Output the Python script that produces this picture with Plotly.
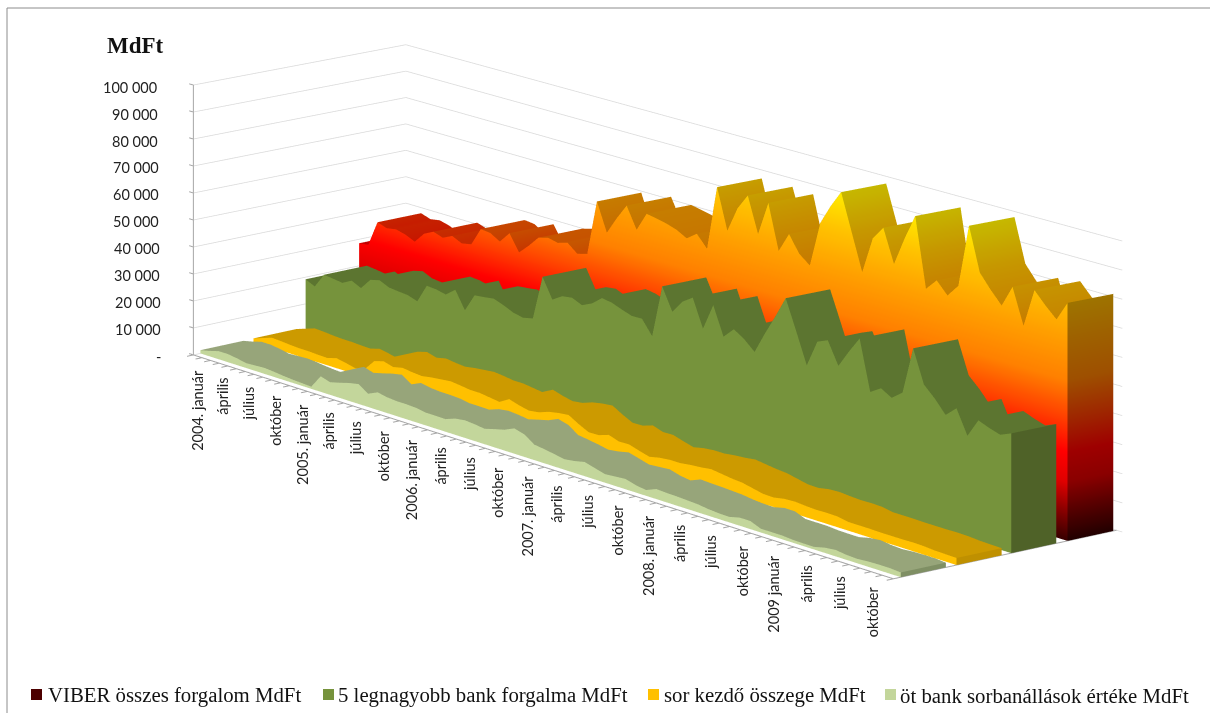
import numpy as np
import plotly.graph_objects as go

viber = [28.5,29,38.5,37.3,37.9,37,35.4,39.4,41.2,40,41.7,40,40.7,47.4,47,44.9,49,43,46.5,50.5,51.5,50.7,51.8,48.8,49.8,70,59.7,66,71.6,63.9,70.7,70,69.2,68,66,68.7,64.4,87.5,73,82,87.6,75,87,71,78,72,69,85,92,98,85,72,84.9,89.6,78,88,96.8,72.5,76.5,72.3,76.7,98.6,83.4,78.5,74.2,81.7,69.4,82.7,78.5,74.8,81.5]
top5 = [19.2,17.6,23,22.6,22.1,24,22.3,26.4,27.3,25.7,25.3,25,23.8,30.6,30.3,29.5,32.3,25.9,32.4,32.8,33.3,32,30.4,29.6,30.4,46.6,39.4,41.7,42.2,40.6,42.3,45.3,44.7,43.3,42.1,42.2,37.1,55.9,47.9,52.6,55.1,45.2,54.6,44.5,48.2,45.8,42.4,50,57,64.5,54,43.2,52.5,54.1,46.3,52.4,58,40.5,42.9,40.7,43.6,60,48.6,44.9,40.4,43.8,35.5,41.9,40.4,39.2,40.8]
queue_start = [1.3,2.5,3.7,3.5,3.2,3,3,2.8,2.7,3.7,3,2.2,3,7,8,7,7.8,7.3,7,7.6,8,8.4,8,7.5,7.5,7,6.5,8.6,7.5,6.7,7.2,8.5,9.2,9.6,7.5,5.7,5.8,7,5.8,5.9,4.8,3.8,4.6,5,5,5.5,5.8,6.3,5.8,5.3,5,4.2,3.4,3.3,4,4.2,3.9,3.7,3.8,3.7,3,3,3,2.9,2.9,2.9,3,2.9,2.6,2.5,2.4]
queue_value = [1.2,2,3,3,2.5,1.8,2,2.2,1.9,1.5,1.2,1,.8,5.7,4.6,5.5,6.5,7.2,4.8,6.4,5.7,5.4,5.4,5.2,4.6,4.6,4.5,5.8,6.3,6,5.5,6.5,7.4,9,8,5.5,5,4.4,3.7,4.2,5,4,3,3.3,3.6,2.6,2,3.5,3.3,3.2,3,2.8,2.3,2,1.9,2.8,2.8,1.3,1.3,1.3,1,.9,.9,1.8,2.2,1.7,1.5,1.8,1.9,1.9,1.6]
months = ["január","április","július","október"]
years = [2004,2005,2006,2007,2008,2009]
ztickvals = list(range(0,100001,10000))
ztext = ["-"]+[f"{v//1000} 000" for v in ztickvals[1:]]
names = ["VIBER összes forgalom MdFt","5 legnagyobb bank forgalma MdFt","sor kezdő összege MdFt","öt bank sorbanállások értéke MdFt"]

N=len(viber)
# foreshortening of the axes (orthographic scene whose far end recedes to the left)
def gx(i):
    i=np.asarray(i,dtype=float)
    return (9.2*i+.0135*i*i)/(9.2*(N-1)+.0135*(N-1)**2)
def tick_pos(i):
    i=np.asarray(i,dtype=float)
    return (i+.0022*i*i)/(71+.0022*71*71)
def dy(g,y):
    return np.asarray(y,dtype=float)*(.99+.05*np.asarray(g,dtype=float))
def dz(g,y,z):
    return np.asarray(z,dtype=float)*(272-6*np.asarray(y,dtype=float)+27*np.asarray(g,dtype=float))/282.5
XR=(-.02,1.02); YR=(-.05,1.06); ZR=(-1000.0,112000.0)
theta=np.arctan(1.212); el=np.radians(15.3)
Lx,Ly,Lz=1107.0,280.0,292.5
K=358.8
D=2.1525
a=np.array([(XR[1]-XR[0])*Lx/K,(YR[1]-YR[0])*Ly/K,(ZR[1]-ZR[0])/1e5*Lz/K])
s=np.array([np.cos(theta),np.sin(theta),0]);f=np.array([-np.sin(theta)*np.cos(el),np.cos(theta)*np.cos(el),-np.sin(el)])
u=np.cross(s,f)
def model(x,y,z):
    return a*np.array([(x-XR[0])/(XR[1]-XR[0])-.5,(y-YR[0])/(YR[1]-YR[0])-.5,(z-ZR[0])/(ZR[1]-ZR[0])-.5])
Mc=model(.5,.5,.5e5)
c=Mc-(651-605)/K*s-(356.5-303)/K*u
e=c-D*f

fig=go.Figure()
gi=gx(np.arange(N))
R=24
red_scale=[[0,"#3a0000"],[.1,"#8c0000"],[.2,"#e00000"],[.3,"#ff0000"],[.42,"#ff4000"],[.55,"#ff8000"],[.7,"#ffa000"],[.85,"#ffc400"],[1,"#fff200"]]
def dark(scale,m):
    out=[]
    for t,h in scale:
        col=[int(int(h[i:i+2],16)*m) for i in (1,3,5)]
        out.append([t,"#%02x%02x%02x"%tuple(col)])
    return out
def flat(col): return [[0,col],[1,col]]
series=[
 (queue_value,.033,.235,flat("#c3d69b"),flat("#97a57a"),flat("#7f8f64")),
 (queue_start,.283,.485,flat("#ffc000"),flat("#cc9a00"),flat("#bf9000")),
 (top5,.528,.73,flat("#76933c"),flat("#5c7530"),flat("#4f6228")),
 (viber,.78,.985,red_scale,dark(red_scale,.78),dark(red_scale,.62)),
]
light=dict(ambient=1,diffuse=0,specular=0,fresnel=0,roughness=1)
def surf(x,y,zraw,scale):
    fig.add_trace(go.Surface(x=x,y=dy(x,y),z=dz(x,y,zraw),surfacecolor=zraw/1e5,cmin=0,cmax=1,colorscale=scale,showscale=False,lighting=light,hoverinfo="skip"))
for vals,y0,y1,cf,ct,ce in series:
    v=np.array(vals)*1000.0
    k=np.linspace(0,1,R+1)[:,None]
    surf(np.tile(gi,(R+1,1)),np.full((R+1,N),y0),k*v,cf)
    surf(np.tile(gi,(2,1)),np.array([[y0]*N,[y1]*N]),np.array([v,v]),ct)
    yy=np.linspace(y0,y1,2)
    surf(np.full((R+1,2),1.0),np.tile(yy,(R+1,1)),k*np.array([[v[-1],v[-1]]]),ce)

def lines(segs,color,width):
    X=[];Y=[];Z=[]
    for p,q in segs:
        X+=[p[0],q[0],None];Y+=[float(dy(p[0],p[1])),float(dy(q[0],q[1])),None];Z+=[float(dz(p[0],p[1],p[2])),float(dz(q[0],q[1],q[2])),None]
    fig.add_trace(go.Scatter3d(x=X,y=Y,z=Z,mode="lines",line=dict(color=color,width=width),hoverinfo="skip",showlegend=False))
grid=[]
for z in ztickvals:
    grid+=[((0,0,z),(0,1,z)),((0,1,z),(1.008,1,z))]
lines(grid,"#d9d9d9",1.5)
ticks=tick_pos(np.arange(72))
ax=[((0,0,0),(0,0,1e5)),((0,0,0),(1,0,0)),((1,0,0),(1,1,0))]
ax+=[((0,0,z),(-.006,0,z)) for z in ztickvals]
ax+=[((float(t),0,0),(float(t),-.03,0)) for t in ticks]
lines(ax,"#a6a6a6",2)

ann=[]
for z,t in zip(ztickvals,ztext):
    ann.append(dict(x=0,y=0,z=float(dz(0,0,z)),text=t,showarrow=False,xanchor="right",yanchor="middle",xshift=-30-4*z/1e5,yshift=-2,font=dict(family="Lato",size=14.5,color="#222222")))
labels=[]
for yr in years:
    for m,name in enumerate(months):
        if m==0:
            labels.append(f"{yr}. január" if yr!=2009 else "2009 január")
        else:
            labels.append(name)
for j,t in enumerate(labels):
    ann.append(dict(x=float(ticks[j*3]),y=0,z=0,text=t,showarrow=False,textangle=-90,xanchor="center",yanchor="top",xshift=4-3*j/23,yshift=-13,font=dict(family="Lato",size=14.5,color="#222222")))

px=lambda v:v/1210
py=lambda v:1-v/713
shapes=[dict(type="line",xref="paper",yref="paper",x0=px(7),x1=px(7),y0=py(8),y1=py(713),line=dict(color="#8c8c8c",width=1)),
 dict(type="line",xref="paper",yref="paper",x0=px(7),x1=px(1210),y0=py(8),y1=py(8),line=dict(color="#8c8c8c",width=1))]
leg_x=[(31,46),(323,336),(648,662),(885,898)]
leg_c=["#4d0000","#76933c","#ffc000","#c3d69b"]
annp=[dict(xref="paper",yref="paper",x=px(135),y=py(46),xanchor="center",yanchor="middle",text="<b>MdFt</b>",showarrow=False,font=dict(family="Liberation Serif",size=23,color="#111111"))]
for (p0,p1),col,n in zip(leg_x,leg_c,names):
    shapes.append(dict(type="rect",xref="paper",yref="paper",x0=px(p0),x1=px(p0+11),y0=py(700),y1=py(689),fillcolor=col,line=dict(width=0)))
    annp.append(dict(xref="paper",yref="paper",x=px(p1),y=py(695),xanchor="left",yanchor="middle",text=n,showarrow=False,font=dict(family="Liberation Serif",size=20.8,color="#111111")))

hid=dict(visible=False,showgrid=False,zeroline=False,showspikes=False)
fig.update_layout(width=1210,height=713,margin=dict(l=0,r=0,t=0,b=0),paper_bgcolor="white",showlegend=False,
 shapes=shapes,annotations=annp,
 scene=dict(domain=dict(x=[0,1],y=[0,1]),
  xaxis=dict(range=list(XR),**hid),yaxis=dict(range=list(YR),**hid),zaxis=dict(range=list(ZR),**hid),
  aspectmode="manual",aspectratio=dict(x=float(a[0]),y=float(a[1]),z=float(a[2])),
  camera=dict(projection=dict(type="orthographic"),eye=dict(x=float(e[0]),y=float(e[1]),z=float(e[2])),center=dict(x=float(c[0]),y=float(c[1]),z=float(c[2])),up=dict(x=0,y=0,z=1)),
  annotations=ann))
fig.write_html("out.html",config={"displayModeBar":False},post_script="document.body.style.margin='0';document.body.style.overflow='hidden';")
